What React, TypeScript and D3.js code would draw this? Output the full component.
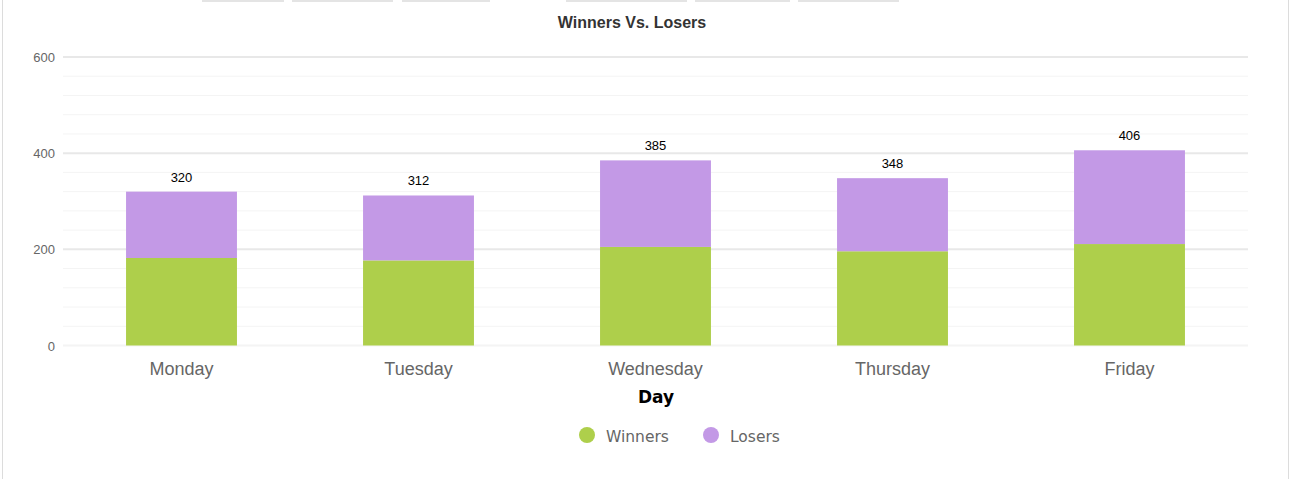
import * as d3 from "d3";
import { useRef, useEffect } from "react";

const days = ["Monday", "Tuesday", "Wednesday", "Thursday", "Friday"];
const winners = [182, 177, 205, 196, 211];
const losers = [138, 135, 180, 152, 195];
const totals = [320, 312, 385, 348, 406];
const yTicks = [0, 200, 400, 600];
const seriesNames = ["Winners", "Losers"];
const colors = ["#aecf4b", "#c399e6"];

export default function App() {
  const svgRef = useRef<SVGSVGElement | null>(null);
  const width = 1292;
  const height = 479;

  useEffect(() => {
    const svg = d3.select(svgRef.current);
    svg.selectAll("*").remove();

    // page frame and the tab strip peeking in at the top
    svg.append("rect")
      .attr("x", 2.5).attr("y", -1).attr("width", 1286).attr("height", 482)
      .attr("fill", "#fff").attr("stroke", "#dcdcdc");
    const tabs = [[202, 284], [292, 393], [402, 490], [566, 687], [695, 790], [798, 899]];
    tabs.forEach(([a, b]) => {
      svg.append("rect")
        .attr("x", a).attr("y", 0).attr("width", b - a).attr("height", 2)
        .attr("fill", "#e4e4e4");
    });

    const data = days.map((d, i) => ({ day: d, winners: winners[i], losers: losers[i] }));
    const stack = d3.stack<any>().keys(["winners", "losers"])(data);

    const x = d3.scaleBand()
      .domain(days)
      .range([63, 1248])
      .paddingInner(0.532)
      .paddingOuter(0.266);

    const y = d3.scaleLinear().domain([0, 600]).range([345.5, 57]);

    // minor grid
    const minor = d3.range(0, 601, 40).filter(v => v % 200 !== 0);
    svg.append("g").selectAll("line").data(minor).join("line")
      .attr("x1", 63).attr("x2", 1248)
      .attr("y1", d => y(d)).attr("y2", d => y(d))
      .attr("stroke", "#f4f4f4").attr("stroke-width", 1);

    // major grid
    svg.append("g").selectAll("line").data(yTicks).join("line")
      .attr("x1", 63).attr("x2", 1248)
      .attr("y1", d => y(d)).attr("y2", d => y(d))
      .attr("stroke", d => (d === 0 ? "#f4f4f4" : "#e8e8e8"))
      .attr("stroke-width", 2);

    svg.append("g").selectAll("text").data(yTicks).join("text")
      .attr("x", 55).attr("y", d => y(d) + 5)
      .attr("text-anchor", "end")
      .style("font-family", "'Liberation Sans', Arial, sans-serif")
      .style("font-size", "13px")
      .attr("fill", "#666")
      .text(d => d);

    // stacked bars
    svg.append("g").selectAll("g").data(stack).join("g")
      .attr("fill", (_, i) => colors[i])
      .selectAll("rect").data(d => d).join("rect")
      .attr("x", d => x(d.data.day)!)
      .attr("width", x.bandwidth())
      .attr("y", d => y(d[1]))
      .attr("height", d => y(d[0]) - y(d[1]));

    // total labels
    svg.append("g").selectAll("text").data(days).join("text")
      .attr("x", d => x(d)! + x.bandwidth() / 2)
      .attr("y", (_, i) => y(totals[i]) - 10)
      .attr("text-anchor", "middle")
      .style("font-family", "'Liberation Sans', Arial, sans-serif")
      .style("font-size", "13px")
      .attr("fill", "#000")
      .text((_, i) => totals[i]);

    // x labels
    svg.append("g").selectAll("text").data(days).join("text")
      .attr("x", d => x(d)! + x.bandwidth() / 2)
      .attr("y", 375)
      .attr("text-anchor", "middle")
      .style("font-family", "'Liberation Sans', Arial, sans-serif")
      .style("font-size", "18px")
      .attr("fill", "#666")
      .text(d => d);

    svg.append("text")
      .attr("x", 656).attr("y", 403)
      .attr("text-anchor", "middle")
      .style("font-family", "'DejaVu Sans', Verdana, sans-serif")
      .style("font-size", "17px")
      .style("font-weight", "bold")
      .attr("fill", "#000")
      .text("Day");

    svg.append("text")
      .attr("x", 632).attr("y", 28)
      .attr("text-anchor", "middle")
      .style("font-family", "'Liberation Sans', Arial, sans-serif")
      .style("font-size", "16px")
      .style("font-weight", "bold")
      .attr("fill", "#333")
      .text("Winners Vs. Losers");

    // legend
    const legendX = [587, 711];
    seriesNames.forEach((name, i) => {
      svg.append("circle")
        .attr("cx", legendX[i]).attr("cy", 435).attr("r", 8)
        .attr("fill", colors[i]);
      svg.append("text")
        .attr("x", legendX[i] + 19).attr("y", 442)
        .style("font-family", "'DejaVu Sans', Verdana, sans-serif")
        .style("font-size", "15.5px")
        .attr("fill", "#666")
        .text(name);
    });
  }, []);

  return (
    <svg
      ref={svgRef}
      width={width}
      height={height}
      style={{ position: "absolute", left: 0, top: 0 }}
    ></svg>
  );
}
